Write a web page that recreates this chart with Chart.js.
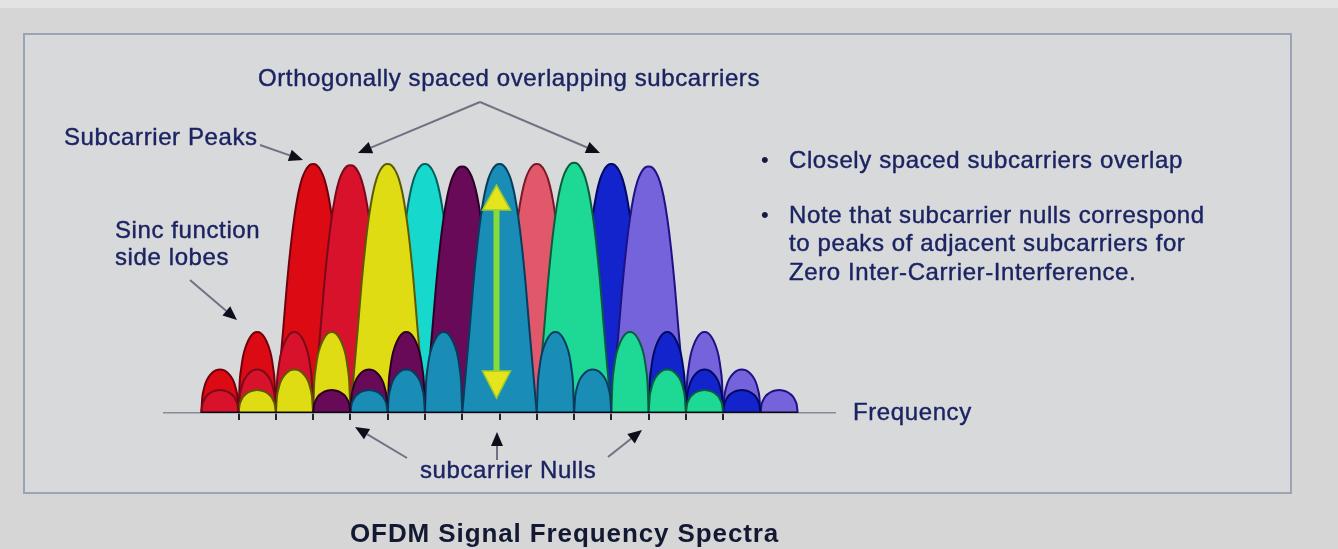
<!DOCTYPE html>
<html>
<head>
<meta charset="utf-8">
<script src="https://cdn.jsdelivr.net/npm/chart.js"></script>
<style>
  body { margin: 0; background: #d6d6d6; }
  #wrap { position: relative; width: 1338px; height: 549px; background: #d6d6d6; overflow: hidden; }
  .strip { position: absolute; left: 0; top: 0; width: 1338px; height: 8px; background: #e3e3e3; }
  .frame { position: absolute; left: 23px; top: 33px; width: 1265px; height: 457px; border: 2px solid #9aa4b2; background: #d8d9db; }
  canvas { position: absolute; left: 0; top: 0; }
  svg { position: absolute; left: 0; top: 0; }
  .lbl { position: absolute; white-space: nowrap; font-family: "Liberation Sans", Arial, sans-serif; font-size: 24px; line-height: 28px; letter-spacing: 0.6px; color: #1b2462; -webkit-text-stroke: 0.4px #1b2462; }
  .bul { position: absolute; font-family: "Liberation Sans", Arial, sans-serif; font-size: 22px; line-height: 28px; color: #141a40; }
  .title { position: absolute; white-space: nowrap; font-family: "Liberation Sans", Arial, sans-serif; font-weight: bold; font-size: 26px; line-height: 30px; letter-spacing: 0.9px; color: #131933; }
</style>
</head>
<body>
<div id="wrap">
  <div class="strip"></div>
  <div class="frame"></div>
  <canvas id="myChart" width="1338" height="549"></canvas>
  <svg id="notes" width="1338" height="549"></svg>

  <div class="lbl" style="left:258px;top:64px">Orthogonally spaced overlapping subcarriers</div>
  <div class="lbl" style="left:64px;top:123px">Subcarrier Peaks</div>
  <div class="lbl" style="left:115px;top:216px">Sinc function</div>
  <div class="lbl" style="left:115px;top:243px">side lobes</div>

  <div class="bul" style="left:761px;top:146px">•</div>
  <div class="lbl" style="left:789px;top:146px">Closely spaced subcarriers overlap</div>
  <div class="bul" style="left:761px;top:201px">•</div>
  <div class="lbl" style="left:789px;top:201px">Note that subcarrier nulls correspond</div>
  <div class="lbl" style="left:789px;top:229px">to peaks of adjacent subcarriers for</div>
  <div class="lbl" style="left:789px;top:258px">Zero Inter-Carrier-Interference.</div>

  <div class="lbl" style="left:853px;top:398px">Frequency</div>
  <div class="lbl" style="left:420px;top:456px">subcarrier Nulls</div>

  <div class="title" style="left:350px;top:518px">OFDM Signal Frequency Spectra</div>
</div>

<script>
// subcarriers (in units of subcarrier spacing)
const carrierPos = [0, 1, 2, 3, 4, 5, 6, 7, 8, 9];
const peakLevel = [1.0, 0.995, 1.0, 1.0, 0.99, 1.0, 1.0, 1.005, 1.0, 0.99];
const carrierColors = ['#dc0a12', '#d8122a', '#e0dc14', '#16d8cc', '#680a58', '#1a8db6', '#e0586a', '#1ed996', '#1424cc', '#7463da'];
const edgeColors = ['#70000e', '#780a1c', '#5c5a00', '#00605c', '#2a0024', '#083c5e', '#7a1828', '#0a5c3c', '#000a62', '#1c1284'];
// which main lobe sits in front of which (higher = in front)
const stackLevel = [1, 2, 5, 1, 3, 4, 1, 5, 2, 3];

// main lobe profile
const mainOffsets = [-1, -0.9, -0.8, -0.7, -0.6, -0.5, -0.4, -0.3, -0.2, -0.1, 0, 0.1, 0.2, 0.3, 0.4, 0.5, 0.6, 0.7, 0.8, 0.9, 1];
const mainShape = [0, 0.17, 0.34, 0.52, 0.67, 0.79, 0.88, 0.94, 0.975, 0.995, 1, 0.995, 0.975, 0.94, 0.88, 0.79, 0.67, 0.52, 0.34, 0.17, 0];

// side lobe profile (one lobe between two nulls)
const sideOffsets = [-0.5, -0.47, -0.43, -0.38, -0.3, -0.2, -0.1, 0, 0.1, 0.2, 0.3, 0.38, 0.43, 0.47, 0.5];
const sideShape = [0, 0.38, 0.55, 0.7, 0.83, 0.93, 0.985, 1, 0.985, 0.93, 0.83, 0.7, 0.55, 0.38, 0];

// visible side lobes: which carrier, where, and which lobe (1st, 2nd, 3rd)
const lobeCarrier = [0, 0, 1, 1, 1, 2, 2, 2, 4, 4, 4, 5, 5, 5, 5, 5, 7, 7, 7, 8, 8, 8, 9, 9, 9];
const lobeCenter = [-1.5, -2.5, -0.5, -1.5, -2.5, 0.5, -0.5, -1.5, 2.5, 1.5, 0.5, 3.5, 2.5, 1.5, 6.5, 7.5, 8.5, 9.5, 10.5, 9.5, 10.5, 11.5, 10.5, 11.5, 12.5];
const lobeRank = [1, 2, 1, 2, 3, 1, 2, 3, 1, 2, 3, 1, 2, 3, 1, 2, 1, 2, 3, 1, 2, 3, 1, 2, 3];
const sideLevel = [0.325, 0.175, 0.092];

// ticks at the nulls
const nullTicks = [-2, -1, 0, 1, 2, 3, 4, 5, 6, 7, 8, 9, 10, 11];

// amplitude arrow on the 6th subcarrier
const arrowCarrier = 5;
const arrowTop = 0.915;
const arrowBottom = 0.06;

let datasets = [];

carrierPos.forEach((c, k) => {
    datasets.push({
        data: mainOffsets.map((o, i) => ({x: c + o, y: mainShape[i] * peakLevel[k]})),
        backgroundColor: carrierColors[k],
        borderColor: edgeColors[k],
        borderWidth: 2,
        fill: 'origin',
        order: 100 - stackLevel[k]
    });
});

lobeCenter.forEach((c, j) => {
    let k = lobeCarrier[j];
    let h = sideLevel[lobeRank[j] - 1];
    datasets.push({
        data: sideOffsets.map((o, i) => ({x: c + o, y: sideShape[i] * h})),
        backgroundColor: carrierColors[k],
        borderColor: edgeColors[k],
        borderWidth: 2,
        fill: 'origin',
        order: 10 - lobeRank[j]
    });
});

// dark base line under the lobes
datasets.push({
    data: [{x: Math.min(...lobeCenter) - 0.5, y: 0}, {x: Math.max(...lobeCenter) + 0.5, y: 0}],
    borderColor: '#0a0a14',
    borderWidth: 3,
    fill: false,
    order: 0
});

const ampArrow = {
    id: 'ampArrow',
    afterDatasetsDraw(chart) {
        const {ctx, scales: {x, y}} = chart;
        const px = x.getPixelForValue(arrowCarrier) - 3;
        const top = y.getPixelForValue(arrowTop);
        const bot = y.getPixelForValue(arrowBottom);
        ctx.save();
        ctx.strokeStyle = '#86dc3a';
        ctx.lineWidth = 6;
        ctx.beginPath();
        ctx.moveTo(px, top + 20);
        ctx.lineTo(px, bot - 20);
        ctx.stroke();
        ctx.fillStyle = '#e6e41c';
        ctx.strokeStyle = '#9ccc2a';
        ctx.lineWidth = 1.5;
        ctx.beginPath();
        ctx.moveTo(px, top);
        ctx.lineTo(px + 14, top + 25);
        ctx.lineTo(px - 14, top + 25);
        ctx.closePath();
        ctx.fill();
        ctx.stroke();
        ctx.beginPath();
        ctx.moveTo(px, bot);
        ctx.lineTo(px + 14, bot - 27);
        ctx.lineTo(px - 14, bot - 27);
        ctx.closePath();
        ctx.fill();
        ctx.stroke();
        ctx.restore();
    }
};

let myChart = document.getElementById('myChart').getContext('2d');
let spectrum = new Chart(myChart, {
    type: 'line',
    data: { datasets: datasets },
    options: {
        responsive: false,
        animation: false,
        layout: { padding: { left: 164, right: 503, top: 139, bottom: 129 } },
        elements: {
            point: { radius: 0 },
            line: { cubicInterpolationMode: 'monotone' }
        },
        plugins: {
            legend: { display: false },
            tooltip: { enabled: false }
        },
        scales: {
            x: {
                type: 'linear',
                min: -4,
                max: 14,
                afterBuildTicks: scale => { scale.ticks = nullTicks.map(v => ({value: v})); },
                ticks: { display: false },
                grid: { drawOnChartArea: false, drawTicks: true, tickLength: 7, color: '#222230', lineWidth: 2 },
                border: { display: true, color: '#868b98', width: 1.5 }
            },
            y: { display: false, min: 0, max: 1.1 }
        }
    },
    plugins: [ampArrow]
});

// pointer arrows for the annotations
const arrowLines = [
    [[260, 145], [303, 160]],
    [[480, 102], [358, 153]],
    [[480, 102], [600, 153]],
    [[190, 280], [237, 320]],
    [[407, 458], [355, 427]],
    [[497, 460], [497, 432]],
    [[608, 457], [642, 430]]
];
let svg = '';
arrowLines.forEach(([a, b]) => {
    let dx = b[0] - a[0], dy = b[1] - a[1];
    let len = Math.hypot(dx, dy);
    let ux = dx / len, uy = dy / len;
    let bx = b[0] - ux * 14, by = b[1] - uy * 14;
    svg += `<line x1="${a[0]}" y1="${a[1]}" x2="${bx}" y2="${by}" stroke="#6c7383" stroke-width="2"/>`;
    svg += `<polygon points="${b[0]},${b[1]} ${bx - uy * 6},${by + ux * 6} ${bx + uy * 6},${by - ux * 6}" fill="#0c0e1a"/>`;
});
document.getElementById('notes').innerHTML = svg;
</script>
</body>
</html>
